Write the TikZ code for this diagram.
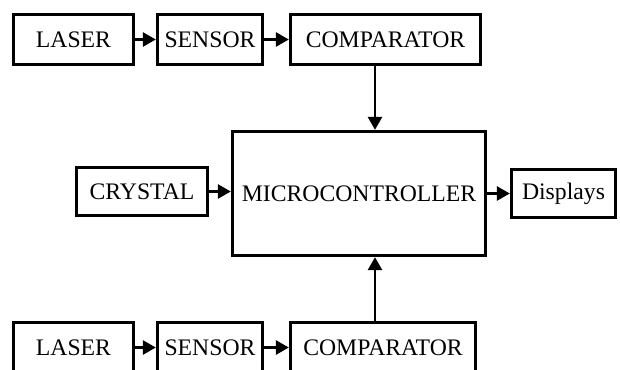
\documentclass[tikz,border=0pt]{standalone}
\usepackage{fontspec}
\setmainfont{Liberation Serif}
\usetikzlibrary{arrows.meta}

\begin{document}
\begin{tikzpicture}[x=1pt,y=-1pt,
    block/.style={draw, line width=3.3pt, inner sep=0pt, font=\fontsize{23.7}{28}\selectfont},
    link/.style={line width=2.6pt, -{Triangle[length=13pt,width=14pt]}}]
        \useasboundingbox (0,0) rectangle (620,369);
        \clip (0,0) rectangle (620,369);

        % Top chain
        \node[block, minimum width=120pt, minimum height=50pt] (laserA) at (73.5,39.5) {LASER};
        \node[block, minimum width=105pt, minimum height=50pt] (sensorA) at (210,39.5) {SENSOR};
        \node[block, minimum width=190pt, minimum height=50pt] (compA) at (385.5,39.5) {COMPARATOR};

        % Middle row
        \node[block, minimum width=253pt, minimum height=124pt] (mcu) at (359,193.5) {MICROCONTROLLER};
        \node[block, minimum width=131pt, minimum height=48pt] (crystal) at (142,191.5) {CRYSTAL};
        \node[block, minimum width=104pt, minimum height=48pt] (disp) at (563.5,193.5) {Displays};

        % Bottom chain
        \node[block, minimum width=120pt, minimum height=50pt] (laserB) at (73.5,347.5) {LASER};
        \node[block, minimum width=105pt, minimum height=50pt] (sensorB) at (210,347.5) {SENSOR};
        \node[block, minimum width=185pt, minimum height=50pt] (compB) at (383,347.5) {COMPARATOR};

        % Arrows
        \draw[link] (laserA) -- (sensorA);
        \draw[link] (sensorA) -- (compA);
        \draw[link] ([xshift=-10.5pt]compA.south) -- ([xshift=16pt]mcu.north);
        \draw[link] (crystal.east) -- (crystal.east -| mcu.west);
        \draw[link] (disp.west -| mcu.east) -- (disp.west);
        \draw[link] (laserB) -- (sensorB);
        \draw[link] (sensorB) -- (compB);
        \draw[link] ([xshift=-8pt]compB.north) -- ([xshift=16pt]mcu.south);
    \end{tikzpicture}
\end{document}
